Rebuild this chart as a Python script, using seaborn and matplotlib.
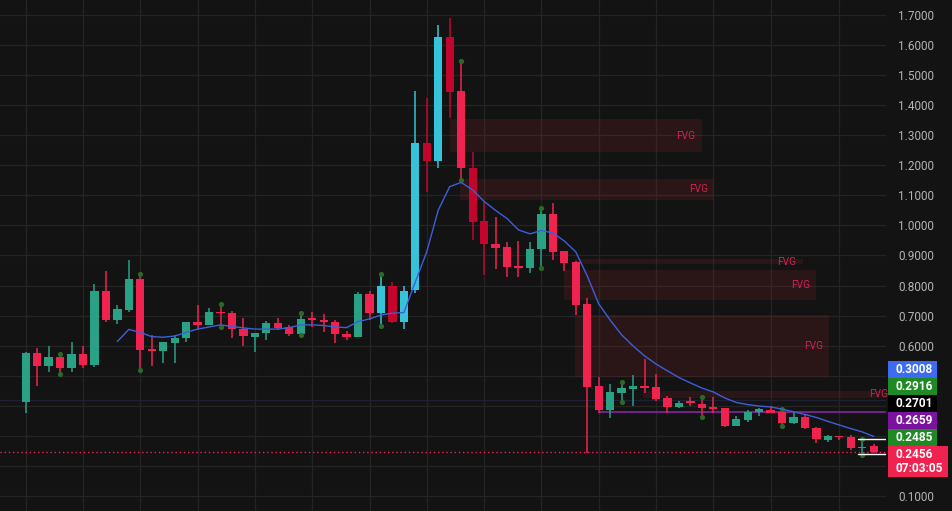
import matplotlib
matplotlib.use("Agg")
import matplotlib.pyplot as plt
import numpy as np
import pandas as pd
import seaborn as sns
from matplotlib.patches import Rectangle

# ---------------- data ----------------
opens = [0.412, 0.576, 0.533, 0.561, 0.527, 0.571, 0.537, 0.782, 0.686, 0.719,
         0.822, 0.588, 0.583, 0.610, 0.624, 0.678, 0.670, 0.711, 0.709, 0.654,
         0.630, 0.641, 0.674, 0.661, 0.638, 0.690, 0.683, 0.678, 0.639, 0.630,
         0.772, 0.708, 0.797, 0.678, 0.785, 1.273, 1.215, 1.626, 1.447, 1.192,
         1.015, 0.937, 0.927, 0.865, 0.859, 0.921, 1.038, 0.916, 0.879, 0.739,
         0.466, 0.386, 0.443, 0.456, 0.466, 0.463, 0.425, 0.397, 0.414, 0.406,
         0.394, 0.392, 0.333, 0.353, 0.379, 0.386, 0.380, 0.342, 0.364, 0.325,
         0.286, 0.298, 0.295, 0.258, 0.266]
highs = [0.579, 0.591, 0.598, 0.572, 0.611, 0.598, 0.804, 0.848, 0.734, 0.885,
         0.838, 0.635, 0.612, 0.635, 0.680, 0.735, 0.724, 0.739, 0.716, 0.693,
         0.641, 0.682, 0.693, 0.669, 0.710, 0.713, 0.704, 0.685, 0.649, 0.780,
         0.782, 0.837, 0.813, 0.798, 1.447, 1.423, 1.667, 1.689, 1.547, 1.245,
         1.077, 1.029, 0.944, 0.948, 0.944, 1.057, 1.076, 0.916, 0.880, 0.758,
         0.495, 0.472, 0.480, 0.502, 0.556, 0.506, 0.433, 0.417, 0.430, 0.428,
         0.430, 0.392, 0.366, 0.386, 0.392, 0.400, 0.388, 0.380, 0.372, 0.330,
         0.303, 0.299, 0.303, 0.289, 0.272]
lows = [0.376, 0.467, 0.511, 0.506, 0.513, 0.527, 0.528, 0.680, 0.672, 0.713,
        0.519, 0.533, 0.541, 0.543, 0.613, 0.652, 0.668, 0.661, 0.624, 0.600,
        0.578, 0.619, 0.652, 0.632, 0.635, 0.661, 0.646, 0.608, 0.619, 0.628,
        0.685, 0.666, 0.676, 0.654, 0.775, 1.112, 1.190, 1.356, 1.151, 0.951,
        0.835, 0.854, 0.829, 0.829, 0.841, 0.857, 0.885, 0.849, 0.702, 0.242,
        0.375, 0.358, 0.414, 0.400, 0.444, 0.416, 0.377, 0.392, 0.399, 0.364,
        0.377, 0.330, 0.332, 0.347, 0.366, 0.376, 0.333, 0.340, 0.322, 0.277,
        0.281, 0.286, 0.253, 0.236, 0.244]
closes = [0.576, 0.533, 0.561, 0.527, 0.571, 0.537, 0.782, 0.686, 0.721, 0.822,
          0.586, 0.583, 0.611, 0.624, 0.678, 0.670, 0.711, 0.707, 0.654, 0.632,
          0.641, 0.674, 0.660, 0.638, 0.688, 0.685, 0.678, 0.638, 0.630, 0.772,
          0.708, 0.797, 0.678, 0.782, 1.273, 1.215, 1.626, 1.445, 1.192, 1.012,
          0.937, 0.926, 0.863, 0.859, 0.922, 1.038, 0.913, 0.876, 0.735, 0.463,
          0.386, 0.445, 0.458, 0.466, 0.460, 0.423, 0.397, 0.410, 0.410, 0.392,
          0.390, 0.333, 0.356, 0.380, 0.388, 0.377, 0.342, 0.364, 0.325, 0.288,
          0.299, 0.295, 0.258, 0.263, 0.2456]

ma_first_bar = 8
ma_values = [0.614, 0.654, 0.644, 0.630, 0.628, 0.632, 0.644, 0.655, 0.662, 0.669,
             0.664, 0.659, 0.655, 0.655, 0.655, 0.660, 0.669, 0.669, 0.667, 0.662,
             0.660, 0.680, 0.689, 0.702, 0.708, 0.710, 0.812, 0.913, 1.051, 1.129,
             1.143, 1.118, 1.080, 1.050, 1.023, 0.985, 0.972, 0.983, 0.975, 0.948,
             0.912, 0.832, 0.739, 0.685, 0.636, 0.599, 0.566, 0.539, 0.516, 0.494,
             0.476, 0.459, 0.446, 0.426, 0.411, 0.404, 0.399, 0.396, 0.389, 0.380,
             0.371, 0.361, 0.348, 0.336, 0.324, 0.313, 0.298]

pivot_bars = [3, 10, 17, 24, 31, 38, 45, 52, 59, 66, 73]
high_volume_bars = [31, 32, 33, 34, 35, 36, 37, 39, 40]

fvg_start = [37.0, 37.9, 47.9, 47.0, 47.9, 53.9]
fvg_end = [59.0, 60.1, 67.8, 69.0, 70.1, 75.8]
fvg_low = [1.245, 1.085, 0.872, 0.752, 0.497, 0.426]
fvg_high = [1.353, 1.154, 0.887, 0.852, 0.702, 0.449]
fvg_label = "FVG"

level_purple = 0.379
level_faint = 0.419
range_top = 0.2885
range_bottom = 0.2396
last_price = 0.2456

y_ticks = [0.1, 0.2, 0.3, 0.4, 0.5, 0.6, 0.7, 0.8, 0.9, 1.0,
           1.1, 1.2, 1.3, 1.4, 1.5, 1.6, 1.7]
hidden_tick_labels = [0.2, 0.3, 0.4, 0.5]   # covered by the price badges
grid_bars = [0, 5, 10, 15, 20, 25, 30, 35, 40, 45, 50, 55, 60, 65, 71]

badge_texts = ["0.3008", "0.2916", "0.2701", "0.2659", "0.2485", "0.2456"]
countdown = "07:03:05"

# ---------------- style ----------------
BG = "#131313"
GRID = "#242424"
UP = "#28a185"
DOWN = "#f0224f"
UP_HV = "#36c3d9"
DOWN_HV = "#c3052d"
badge_colors = ["#3d6cf0", "#1f8a23", "#000000", "#7c139f", "#1f8a23", "#f0224f"]

sns.set_theme(style="dark", rc={"axes.facecolor": BG, "figure.facecolor": BG})
plt.rcParams["font.family"] = ["Roboto", "DejaVu Sans"]

W, H = 953, 511
PLOT_R = 886
fig = plt.figure(figsize=(W / 100, H / 100), dpi=100)
fig.patch.set_facecolor(BG)
ax = fig.add_axes([0, 0, PLOT_R / W, 1])
ax.set_facecolor(BG)
for s in ax.spines.values():
    s.set_visible(False)

xmin, xmax = -2.243, 75.07
ymin, ymax = 0.0499, 1.7499
ax.set_xlim(xmin, xmax)
ax.set_ylim(ymin, ymax)

ax.set_axisbelow(True)
ax.set_yticks(y_ticks)
ax.set_yticklabels(["" if any(abs(v - h) < 1e-9 for h in hidden_tick_labels)
                    else f"{v:.4f}" for v in y_ticks])
ax.set_xticks(grid_bars)
ax.set_xticklabels([])
ax.yaxis.tick_right()
ax.tick_params(axis="y", length=0, pad=8.6, labelsize=8.5, labelcolor="#b4b4b4")
ax.tick_params(axis="x", length=0, labelbottom=False)
ax.grid(True, color=GRID, linewidth=0.9)

# FVG zones
for s0, e0, lo, hi in zip(fvg_start, fvg_end, fvg_low, fvg_high):
    ax.add_patch(Rectangle((s0, lo), e0 - s0, hi - lo, facecolor="#8b222c",
                           alpha=0.2, edgecolor="none", zorder=1))
    ax.annotate(fvg_label, xy=(e0, (lo + hi) / 2), xytext=(-4.5, 0),
                textcoords="offset points", ha="right", va="center",
                color="#d42350", fontsize=7.3, zorder=2, annotation_clip=False)

# horizontal levels
ax.axhline(level_faint, color="#1f1f36", lw=1, zorder=1.5)
ax.plot([50, xmax], [level_purple, level_purple], color="#8e27b0", lw=1.1, zorder=1.6)
ax.axhline(last_price, color="#f0224f", lw=1, ls=(0, (1, 2)), zorder=1.7)

# candles
bars = np.arange(len(closes))
df = pd.DataFrame({"bar": bars, "open": opens, "high": highs, "low": lows, "close": closes})
hv = set(high_volume_bars)
colors = []
for b, o, c in zip(df["bar"], df["open"], df["close"]):
    up = c >= o
    if b in hv:
        colors.append(UP_HV if up else DOWN_HV)
    else:
        colors.append(UP if up else DOWN)
ax.vlines(df["bar"], df["low"], df["high"], colors=colors, lw=1.1, zorder=3)
body_lo = np.minimum(df["open"], df["close"])
body_h = np.maximum(np.abs(df["close"] - df["open"]), 0.006)
ax.bar(df["bar"], body_h, bottom=body_lo, width=0.72, color=colors,
       edgecolor="none", zorder=4)

# pivot dots
pv = df.loc[pivot_bars]
ax.scatter(np.concatenate([pv["bar"], pv["bar"]]),
           np.concatenate([pv["high"], pv["low"]]),
           s=14, color="#2a6a24", zorder=4.5, linewidths=0)

# moving average
ma_df = pd.DataFrame({"bar": np.arange(ma_first_bar, ma_first_bar + len(ma_values)),
                      "ma": ma_values})
sns.lineplot(data=ma_df, x="bar", y="ma", ax=ax, color="#3d5fd9", linewidth=1.0,
             zorder=5, legend=False)
ax.set_xlabel("")
ax.set_ylabel("")

# range box lines at the end
ax.plot([72.6, xmax], [range_top, range_top], color="white", lw=1, zorder=6)
ax.plot([72.6, xmax], [range_bottom, range_bottom], color="white", lw=1, zorder=6)

# price badges on the right scale
tops = [361, 378, 395, 412, 429, 446]
for k, (txt, col) in enumerate(zip(badge_texts, badge_colors)):
    top = tops[k]
    h = 16.6 if k < 5 else 31
    w = 49 if k < 5 else 60
    fig.add_artist(Rectangle((888 / W, 1 - (top + h) / H), w / W, h / H,
                             transform=fig.transFigure, facecolor=col,
                             edgecolor="none", zorder=10))
    yc = top + 8.3
    fig.text(895.5 / W, 1 - yc / H, txt, color="white", fontsize=8.6,
             fontweight="bold", ha="left", va="center", zorder=11)
fig.text(895.5 / W, 1 - 468.5 / H, countdown, color="white", fontsize=8.6,
         fontweight="bold", ha="left", va="center", zorder=11)

fig.savefig("out.png", dpi=100, facecolor=BG)
